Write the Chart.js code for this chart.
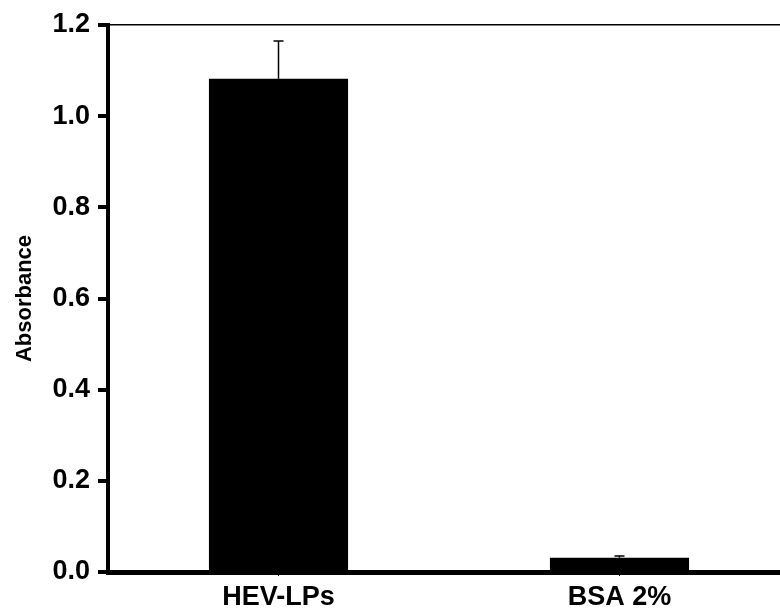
<!DOCTYPE html>
<html>
<head>
<meta charset="utf-8">
<script src="https://cdn.jsdelivr.net/npm/chart.js@4"></script>
<style>
  html, body { margin: 0; padding: 0; background: #fff; overflow: hidden; }
  #wrap { width: 780px; height: 611px; overflow: hidden; }
</style>
</head>
<body>
<div id="wrap"><canvas id="absChart" width="790" height="611"></canvas></div>
<script>
// Data
const categories = ["HEV-LPs", "BSA 2%"];
const absorbance = [1.082, 0.031];
const absorbanceErr = [0.083, 0.004];
const yTicks = [0, 0.2, 0.4, 0.6, 0.8, 1.0, 1.2];

const FONT = "'Liberation Sans', Arial, Helvetica, sans-serif";

// Upward error bars drawn from the data through the y scale
const errorBars = {
  id: "errorBars",
  afterDatasetsDraw(chart) {
    const ctx = chart.ctx;
    const yScale = chart.scales.y;
    const meta = chart.getDatasetMeta(0);
    ctx.save();
    ctx.strokeStyle = "#000";
    ctx.lineWidth = 1.5;
    meta.data.forEach((bar, i) => {
      const yTop = yScale.getPixelForValue(absorbance[i] + absorbanceErr[i]);
      const yVal = yScale.getPixelForValue(absorbance[i]);
      ctx.beginPath();
      ctx.moveTo(bar.x, yVal);
      ctx.lineTo(bar.x, yTop);
      ctx.moveTo(bar.x - 5, yTop);
      ctx.lineTo(bar.x + 5, yTop);
      ctx.stroke();
    });
    ctx.restore();
  },
};

new Chart(document.getElementById("absChart").getContext("2d"), {
  type: "bar",
  data: {
    labels: categories,
    datasets: [
      {
        label: "Absorbance",
        data: absorbance,
        backgroundColor: "#000",
        borderWidth: 0,
        barPercentage: 0.408,
        categoryPercentage: 1.0,
      },
    ],
  },
  options: {
    responsive: false,
    animation: false,
    layout: { padding: { top: 25, right: 0, bottom: 0, left: 0 } },
    plugins: {
      legend: { display: false },
      tooltip: { enabled: false },
    },
    scales: {
      x: {
        type: "category",
        border: { display: true, color: "#000", width: 5 },
        grid: { drawOnChartArea: false, offset: false, color: "#000", lineWidth: 1, tickLength: 4 },
        ticks: { color: "#000", font: { family: FONT, size: 27, weight: "bold" }, padding: 5, maxRotation: 0 },
        afterFit(scale) { scale.height = 39; },
      },
      xTop: {
        type: "category",
        position: "top",
        labels: categories,
        border: { display: true, color: "#000", width: 1.5 },
        grid: { display: false },
        ticks: { display: false },
        afterFit(scale) { scale.height = 0; },
      },
      y: {
        min: 0,
        max: 1.2,
        afterBuildTicks(scale) {
          scale.ticks = yTicks.map((v) => ({ value: v }));
        },
        border: { display: true, color: "#000", width: 4 },
        grid: { drawOnChartArea: false, color: "#000", lineWidth: 4, tickLength: 10 },
        ticks: {
          color: "#000",
          padding: 8,
          font: { family: FONT, size: 27, weight: "bold" },
          callback: (v) => Number(v).toFixed(1),
        },
        title: {
          display: true,
          text: "Absorbance",
          color: "#000",
          font: { family: FONT, size: 22, weight: "bold" },
          padding: { top: 12, bottom: 0 },
        },
        afterFit(scale) { scale.width = 108; },
      },
    },
  },
  plugins: [errorBars],
});
</script>
</body>
</html>
